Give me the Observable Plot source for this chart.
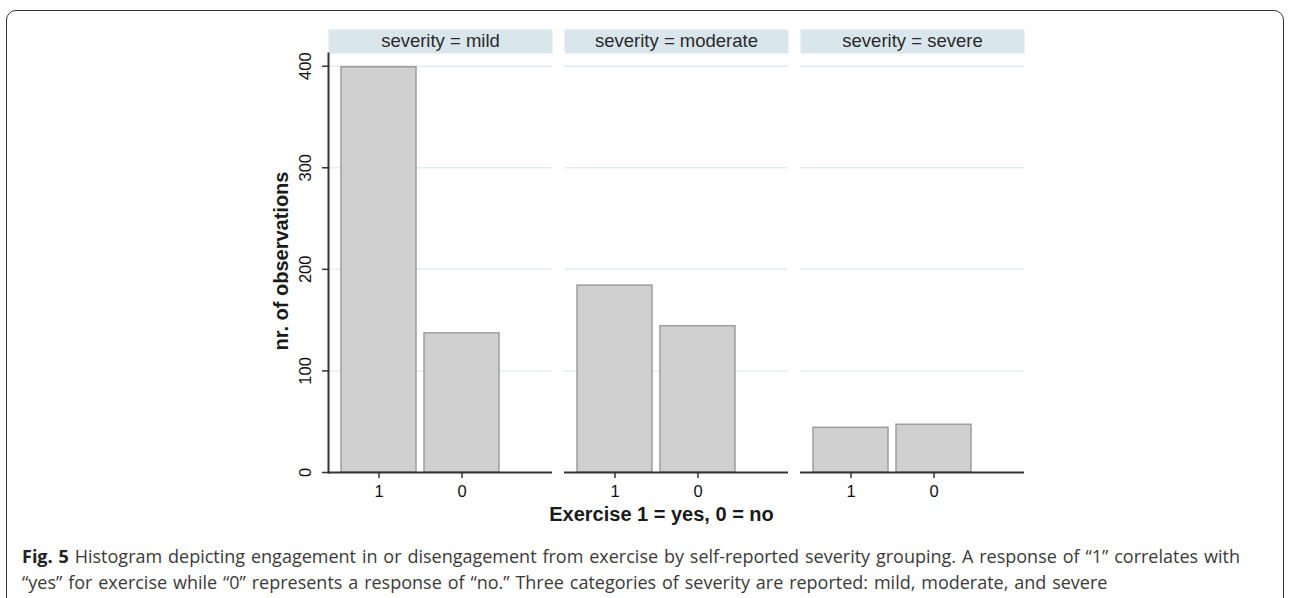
<!DOCTYPE html>
<html>
<head>
<meta charset="utf-8">
<script src="https://cdn.jsdelivr.net/npm/d3@7"></script>
<script src="https://cdn.jsdelivr.net/npm/@observablehq/plot@0.6"></script>
<style>
  html, body { margin: 0; padding: 0; background: #fff; width: 1289px; height: 598px; overflow: hidden; }
  #frame { position: absolute; left: 6px; top: 10px; width: 1278px; height: 700px; border: 1.5px solid #333; border-radius: 10px; box-sizing: border-box; }
  #chart { position: absolute; left: 0; top: 0; }
  #caption { position: absolute; left: 22px; top: 543px; width: 1255px; font-family: "Open Sans", sans-serif; font-size: 18px; word-spacing: 1.2px; line-height: 26px; color: #3a3a3a; white-space: nowrap; }
  #caption b { color: #222; }
</style>
</head>
<body>
<div id="frame"></div>
<div id="chart"></div>
<div id="caption"><b>Fig. 5</b> Histogram depicting engagement in or disengagement from exercise by self-reported severity grouping. A response of “1” correlates with<br>“yes” for exercise while “0” represents a response of “no.” Three categories of severity are reported: mild, moderate, and severe</div>
<script>
const severities = ["mild", "moderate", "severe"];
const exerciseLevels = ["1", "0"];
const countsMild = [399, 137];
const countsModerate = [184, 144];
const countsSevere = [44, 47];
const yTicks = [0, 100, 200, 300, 400];
const yLabel = "nr. of observations";
const xTitle = "Exercise 1 = yes, 0 = no";
const stripPrefix = "severity = ";

const seriesBySeverity = [countsMild, countsModerate, countsSevere];
const data = severities.flatMap((s, i) =>
  exerciseLevels.map((e, j) => ({severity: s, exercise: e, count: seriesBySeverity[i][j]}))
);

const W = 1289, H = 540, mTop = 53, mBottom = 68, mLeft = 327, mRight = 264;
const frameH = H - mTop - mBottom;
const font = "'Liberation Sans', Arial, sans-serif";

const chart = Plot.plot({
  width: W,
  height: H,
  marginTop: mTop,
  marginBottom: mBottom,
  marginLeft: mLeft,
  marginRight: mRight,
  style: {fontFamily: font, background: "transparent", color: "#111"},
  fx: {domain: severities, paddingInner: 0.0507, paddingOuter: 0, label: null, axis: null},
  x: {domain: exerciseLevels, paddingInner: 0.1, paddingOuter: 0.05, insetLeft: 9, insetRight: 49, label: null, axis: null},
  y: {domain: [0, 412.5], label: null, axis: null},
  marks: [
    // facet strips
    Plot.frame({fill: "#d9e6ec", stroke: null, insetTop: -24, insetBottom: frameH}),
    Plot.text(severities, {fx: d => d, text: d => stripPrefix + d, frameAnchor: "top", dy: -12, fontSize: 18.5, fill: "#2a2a2a", lineAnchor: "middle"}),
    // gridlines
    Plot.gridY(yTicks.filter(t => t > 0), {stroke: "#e4eef1", strokeOpacity: 1, strokeWidth: 1.5}),
    // bars
    Plot.barY(data, {fx: "severity", x: "exercise", y: "count", fill: "#d0d0d0", stroke: "#9d9d9d", strokeWidth: 1.5}),
    // axes
    Plot.ruleY([0], {stroke: "#333", strokeWidth: 2}),
    Plot.frame({anchor: "left", facetAnchor: "left", stroke: "#333", strokeWidth: 2}),
    Plot.axisY({ticks: yTicks, tickSize: 6, tickPadding: 12, tickRotate: -90, fontSize: 16.5, label: null, stroke: "#333", strokeWidth: 1.5}),
    Plot.text([yLabel], {fx: () => "mild", text: d => d, frameAnchor: "left", textAnchor: "middle", rotate: -90, dx: -47, dy: -2, fontSize: 20, fontWeight: "bold", fill: "#1a1a1a"}),
    Plot.axisX({tickSize: 6, tickPadding: 7, fontSize: 16.5, label: null, stroke: "#333", strokeWidth: 1.5}),
    Plot.text([xTitle], {fx: () => "moderate", text: d => d, frameAnchor: "bottom", dx: -15, dy: 48, fontSize: 20, fontWeight: "bold", fill: "#1a1a1a"})
  ]
});
document.getElementById("chart").appendChild(chart);
</script>
</body>
</html>
